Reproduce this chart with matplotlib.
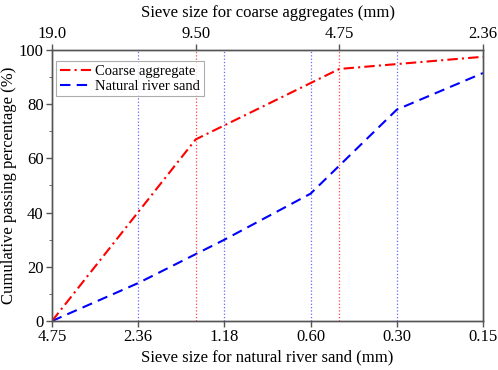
import matplotlib
matplotlib.use("Agg")
import matplotlib.pyplot as plt
from matplotlib.ticker import MultipleLocator

plt.rcParams['font.family'] = ['Liberation Serif', 'DejaVu Serif']

# Data
sand_sieves = ["4.75", "2.36", "1.18", "0.60", "0.30", "0.15"]
sand_passing = [0, 14, 30, 47, 78, 91.5]
coarse_sieves = ["19.0", "9.50", "4.75", "2.36"]
coarse_passing = [0, 67, 93, 97.5]

fig = plt.figure(figsize=(4.98, 3.70), dpi=100)
ax = fig.add_axes([0.1044, 0.1324, 0.8655, 0.7325])
axt = ax.twiny()

spine_c = '#555555'
sand_x = list(range(len(sand_sieves)))
coarse_x = list(range(len(coarse_sieves)))

ax.set_xlim(0, len(sand_sieves) - 1)
axt.set_xlim(0, len(coarse_sieves) - 1)
ax.set_ylim(0, 100)

# vertical guide lines
for xv in sand_x[1:-1]:
    ax.axvline(xv, color='#4040ff', ls=':', lw=0.9, alpha=0.8, zorder=1)
for xv in coarse_x[1:-1]:
    axt.axvline(xv, color='#ff3030', ls=':', lw=0.9, alpha=0.9, zorder=1)

lb, = ax.plot(sand_x, sand_passing, color='blue', ls=(0, (5, 3)), lw=1.5,
              label='Natural river sand')
lr, = axt.plot(coarse_x, coarse_passing, color='red', ls=(0, (5, 2, 1, 2)), lw=1.5,
               label='Coarse aggregate')

ax.set_xticks(sand_x)
ax.set_xticklabels(sand_sieves)
axt.set_xticks(coarse_x)
axt.set_xticklabels(coarse_sieves)
ax.yaxis.set_major_locator(MultipleLocator(20))
ax.yaxis.set_minor_locator(MultipleLocator(10))

for a in (ax, axt):
    for s in a.spines.values():
        s.set_color(spine_c)
        s.set_linewidth(1.0)
    a.tick_params(direction='out', colors=spine_c, labelcolor='black',
                  labelsize=12, length=4, width=1.0, pad=2)
ax.tick_params(which='minor', direction='out', length=2.5, colors=spine_c)

ax.set_xlabel('Sieve size for natural river sand (mm)', fontsize=12, labelpad=3)
axt.set_xlabel('Sieve size for coarse aggregates (mm)', fontsize=12, labelpad=6)
ax.set_ylabel('Cumulative passing percentage (%)', fontsize=12, labelpad=1)

leg = axt.legend(handles=[lr, lb], loc='upper left', bbox_to_anchor=(0.0, 0.975),
                 fontsize=10.5, frameon=True, fancybox=False, edgecolor='#999999',
                 handlelength=2.1, handletextpad=0.3, borderpad=0.25,
                 labelspacing=0.1, borderaxespad=0.3)
leg.get_frame().set_linewidth(0.8)

fig.savefig('out.png', dpi=100)
